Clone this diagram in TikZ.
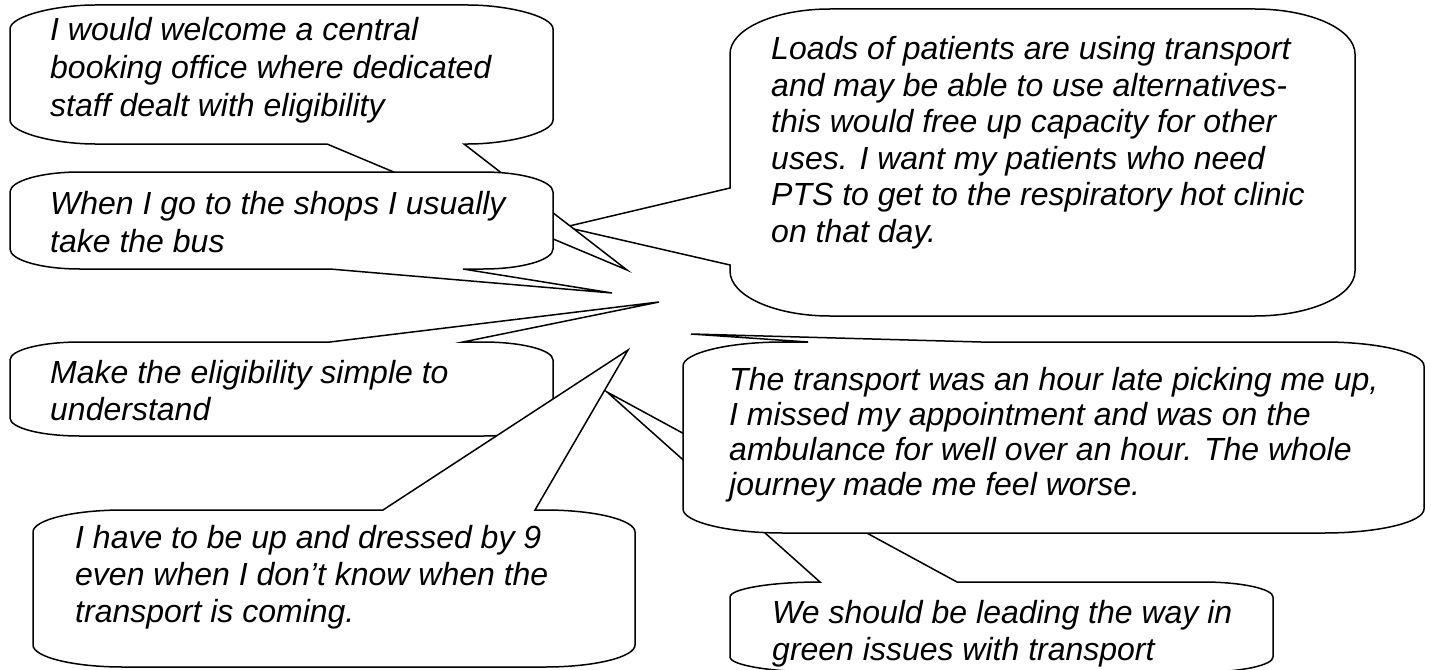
\documentclass[tikz,border=0pt]{standalone}
\usepackage{fontspec}
\setmainfont{Liberation Sans}
\usepackage{tikz}

\begin{document}
\begin{tikzpicture}[
        x=1pt, y=-1pt,
        bubble/.style={draw=black, fill=white, line width=1.5pt, line join=miter},
        quote/.style={anchor=base west, inner sep=0pt, align=left, font=\itshape\fontsize{32}{37}\selectfont}
    ]

    \useasboundingbox (0,0) rectangle (1431,669);
    \fill[white] (0,0) rectangle (1431,669);
    \clip (0,0) rectangle (1431,669);

    % Pointer tips
    \coordinate (tipcap) at (565,227);
    \coordinate (tipwel) at (627,270);
    \coordinate (tipshop) at (612,293);
    \coordinate (tipsimple) at (659,302);
    \coordinate (tipgreen) at (607,392);
    \coordinate (tiplate) at (691,334);
    \coordinate (tipdressed) at (628,350);

    % Callouts, back to front (text nodes sit on the baseline of their last line)
    \filldraw[bubble] (730,54) .. controls (730,29) and (775,9) .. (830,9) -- (1255,9)
        .. controls (1310,9) and (1355,29) .. (1355,54) -- (1355,271)
        .. controls (1355,296) and (1310,316) .. (1255,316) -- (830,316)
        .. controls (775,316) and (730,296) .. (730,271) -- (730,265) -- (tipcap) -- (730,188) -- cycle;
    \node[quote, font=\itshape\fontsize{32}{36.5}\selectfont] (capacity) at (771,242)
        {Loads of patients are using transport\\and may be able to use alternatives-\\this would free up capacity for other\\uses. I want my patients who need\\PTS to get to the respiratory hot clinic\\on that day.};

    \filldraw[bubble] (10,29) .. controls (10,16) and (56,5) .. (95,5) -- (468,5)
        .. controls (507,5) and (553,16) .. (553,29) -- (553,120)
        .. controls (553,133) and (507,144) .. (468,144) -- (464,144) -- (tipwel) -- (327,144) -- (95,144)
        .. controls (56,144) and (10,133) .. (10,120) -- cycle;
    \node[quote, font=\itshape\fontsize{32}{38}\selectfont] (welcome) at (50,116)
        {I would welcome a central\\booking office where dedicated\\staff dealt with eligibility};

    \filldraw[bubble] (10,192) .. controls (10,181) and (41,172) .. (80,172) -- (483,172)
        .. controls (522,172) and (553,181) .. (553,192) -- (553,249)
        .. controls (553,260) and (522,269) .. (483,269) -- (463,269) -- (tipshop) -- (330,269) -- (80,269)
        .. controls (41,269) and (10,260) .. (10,249) -- cycle;
    \node[quote, font=\itshape\fontsize{32}{38}\selectfont] (shops) at (50,252)
        {When I go to the shops I usually\\take the bus};

    \filldraw[bubble] (10,360) .. controls (10,350) and (41,342) .. (80,342) -- (330,342) -- (tipsimple)
        -- (463,342) -- (483,342) .. controls (522,342) and (553,350) .. (553,360) -- (553,418)
        .. controls (553,428) and (522,436) .. (483,436) -- (80,436)
        .. controls (41,436) and (10,428) .. (10,418) -- cycle;
    \node[quote] (simple) at (50,420)
        {Make the eligibility simple to\\understand};

    \filldraw[bubble] (730,597) .. controls (730,589) and (770,582) .. (820,582) -- (tipgreen) -- (957,582)
        -- (1203,582) .. controls (1242,582) and (1273,589) .. (1273,597) -- (1273,657)
        .. controls (1273,665) and (1242,672) .. (1203,672) -- (820,672)
        .. controls (770,672) and (730,665) .. (730,657) -- cycle;
    \node[quote] (green) at (772,660)
        {We should be leading the way in\\green issues with transport};

    \filldraw[bubble] (683,366) .. controls (683,353) and (728,342) .. (783,342) -- (808,342) -- (tiplate)
        -- (981,342) -- (1324,342) .. controls (1379,342) and (1424,353) .. (1424,366) -- (1424,509)
        .. controls (1424,522) and (1379,533) .. (1324,533) -- (783,533)
        .. controls (728,533) and (683,522) .. (683,509) -- cycle;
    \node[quote, font=\itshape\fontsize{32}{35}\selectfont] (late) at (729,495)
        {The transport was an hour late picking me up,\\I missed my appointment and was on the\\ambulance for well over an hour. The whole\\journey made me feel worse.};

    \filldraw[bubble] (33,532) .. controls (33,520) and (73,510) .. (123,510) -- (383,510) -- (tipdressed)
        -- (535,510) -- (545,510) .. controls (595,510) and (635,520) .. (635,532) -- (635,645)
        .. controls (635,657) and (595,667) .. (545,667) -- (123,667)
        .. controls (73,667) and (33,657) .. (33,645) -- cycle;
    \node[quote] (dressed) at (75,622)
        {I have to be up and dressed by 9\\even when I don’t know when the\\transport is coming.};

\end{tikzpicture}
\end{document}
